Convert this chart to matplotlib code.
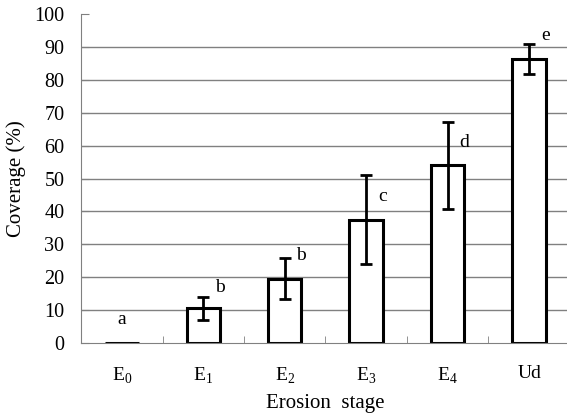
import numpy as np
import matplotlib
matplotlib.use("Agg")
import matplotlib.pyplot as plt

plt.rcParams['font.family'] = ['Liberation Serif', 'DejaVu Serif']
plt.rcParams['mathtext.fontset'] = 'custom'
plt.rcParams['mathtext.rm'] = 'Liberation Serif'

# data
stages = [r'E$_{\mathrm{0}}$', r'E$_{\mathrm{1}}$', r'E$_{\mathrm{2}}$',
          r'E$_{\mathrm{3}}$', r'E$_{\mathrm{4}}$', 'Ud']
coverage = [0.0, 10.5, 19.5, 37.5, 54.0, 86.3]
err = [0.0, 3.4, 6.2, 13.5, 13.3, 4.5]
letters = ['a', 'b', 'b', 'c', 'd', 'e']
letter_y = [7.0, 17.0, 26.5, 44.5, 61.0, 93.5]

fig = plt.figure(figsize=(5.67, 4.13), dpi=100)
ax = fig.add_axes([0.143, 0.1695, 0.862, 0.7965])

x = np.arange(len(stages))
ax.set_xlim(-0.5, 5.5)
ax.set_ylim(0, 100)

# gridlines 10..90 (no line at 100)
for g in range(10, 100, 10):
    ax.axhline(g, color='#808080', lw=1.0, zorder=0)

ax.bar(x, coverage, width=0.41, color='white', edgecolor='black', lw=2.2, zorder=2)
ax.errorbar(x[1:], coverage[1:], yerr=err[1:], fmt='none', ecolor='black',
            elinewidth=2.0, capsize=4.5, capthick=2.0, zorder=3)

for xi, lab, ly in zip(x, letters, letter_y):
    dx = 0.0 if xi == 0 else 0.2
    ax.text(xi + dx, ly, lab, ha='center', va='center', fontsize=14)

ax.set_yticks(range(0, 101, 10))
ax.set_xticks(x)
ax.set_xticklabels(stages, fontsize=14)
ax.set_xticks(np.arange(0.5, 5, 1.0), minor=True)
ax.tick_params(axis='x', which='major', length=0, pad=16)
ax.tick_params(axis='x', which='minor', direction='in', length=5, color='#808080')
ax.tick_params(axis='y', direction='in', length=6, color='#808080', labelsize=14.5, pad=12)

for s in ['top', 'right']:
    ax.spines[s].set_visible(False)
ax.spines['left'].set_color('#808080')
ax.spines['bottom'].set_color('#808080')

ax.set_ylabel('Coverage (%)', fontsize=15, labelpad=6)
ax.set_xlabel('Erosion  stage', fontsize=15, labelpad=6)

fig.savefig('out.png', dpi=100)
